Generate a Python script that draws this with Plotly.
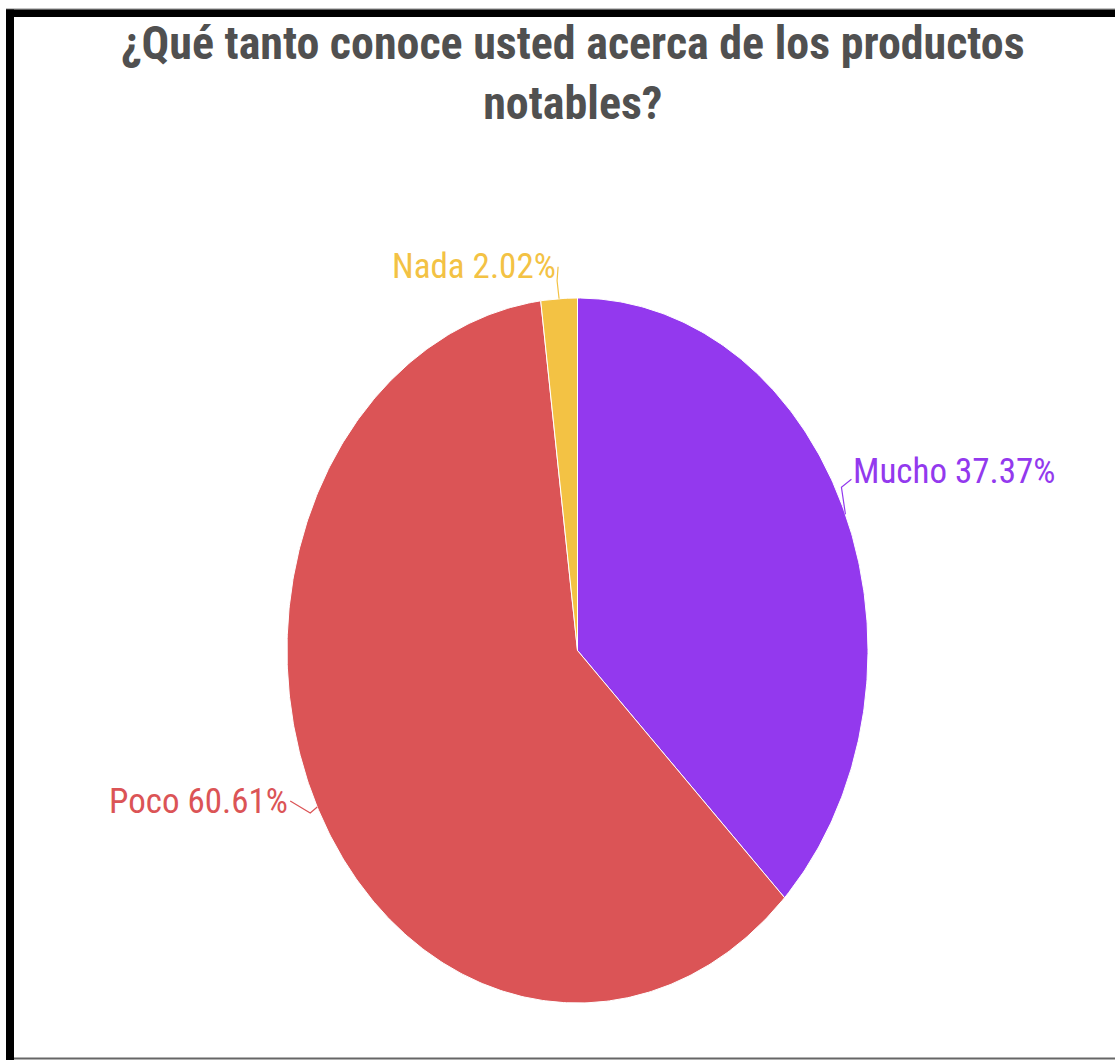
import numpy as np
import plotly.graph_objects as go

# ---- data ----
categories = ["Mucho", "Poco", "Nada"]
percentages = [37.37, 60.61, 2.02]
colors = ["#9339EE", "#DB5456", "#F3C244"]
title_text = "¿Qué tanto conoce usted acerca de los productos<br>notables?"

# ---- layout constants (pixels) ----
W, H = 1115, 1060
CX, CY = 577.5, 650.5      # pie centre
RX, RY = 290.5, 352.5      # pie radii (the original pie is stretched vertically)

# label offsets from the mid-arc point, with label anchor
label_style = {
    "Mucho": dict(dx=6, dy=-43, xanchor="left", elbow=(-4, -27)),
    "Poco": dict(dx=-27, dy=-6, xanchor="right", elbow=(-7, 6)),
    "Nada": dict(dx=-1, dy=-32, xanchor="right", elbow=(-2, -18)),
}


def pt(frac):
    """point on the ellipse at fraction frac, clockwise from top"""
    a = 2 * np.pi * frac
    return CX + RX * np.sin(a), CY - RY * np.cos(a)


fig = go.Figure()
total = sum(percentages)
start = 0.0
for cat, val, col in zip(categories, percentages, colors):
    f0 = start / total
    f1 = (start + val) / total
    n = max(4, int(600 * (f1 - f0)))
    fr = np.linspace(f0, f1, n)
    xs, ys = pt(fr)
    xs = np.concatenate([[CX], xs, [CX]])
    ys = np.concatenate([[CY], ys, [CY]])
    fig.add_trace(go.Scatter(x=xs, y=ys, mode="lines", fill="toself", fillcolor=col,
                             line=dict(color="white", width=1), hoverinfo="text",
                             text=f"{cat} {val:.2f}%", showlegend=False))
    # label + leader
    mx, my = pt((f0 + f1) / 2)
    st = label_style[cat]
    lx, ly = mx + st["dx"], my + st["dy"]
    ex, ey = mx + st["elbow"][0], my + st["elbow"][1]
    fig.add_trace(go.Scatter(x=[mx, ex, lx], y=[my, ey, ly + (8 if cat == "Mucho" else 0)],
                             mode="lines", line=dict(color=col, width=1.2),
                             hoverinfo="skip", showlegend=False))
    fig.add_annotation(x=lx, y=ly, xref="x", yref="y", text=f"{cat} {val:.2f}%",
                       showarrow=False, xanchor=st["xanchor"], yanchor="middle",
                       font=dict(family="Roboto Condensed", size=35, color=col))
    start += val

fig.add_annotation(x=573 / W, y=1 - 14 / H, xref="paper", yref="paper", text=title_text,
                   showarrow=False, xanchor="center", yanchor="top",
                   font=dict(family="Roboto Condensed", size=46, color="#505050", weight="bold"))

# frame of the original screenshot
fig.add_shape(type="line", xref="paper", yref="paper", x0=6 / W, x1=1, y0=1 - 9 / H, y1=1 - 9 / H,
              line=dict(color="#888888", width=1), layer="above")
fig.add_shape(type="rect", xref="paper", yref="paper", x0=6 / W, x1=1, y0=1 - 17 / H, y1=1 - 9.5 / H,
              fillcolor="black", line_width=0, layer="above")
fig.add_shape(type="rect", xref="paper", yref="paper", x0=6 / W, x1=14 / W, y0=0, y1=1 - 9.5 / H,
              fillcolor="black", line_width=0, layer="above")
fig.add_shape(type="line", xref="paper", yref="paper", x0=14 / W, x1=1, y0=1.5 / H, y1=1.5 / H,
              line=dict(color="#666666", width=2), layer="above")

fig.update_layout(
    width=W, height=H, margin=dict(l=0, r=0, t=0, b=0),
    paper_bgcolor="white", plot_bgcolor="white",
    xaxis=dict(range=[0, W], visible=False, fixedrange=True),
    yaxis=dict(range=[H, 0], visible=False, fixedrange=True),
    showlegend=False,
)
fig.write_html("out.html")
